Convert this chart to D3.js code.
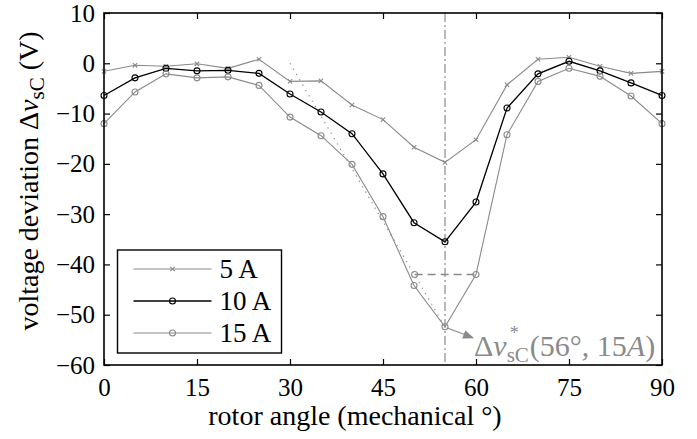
<!DOCTYPE html>
<html>
<head>
<meta charset="utf-8">
<script src="https://cdn.jsdelivr.net/npm/d3@7"></script>
<style>
body { margin: 0; background: #fff; }
</style>
</head>
<body>
<div id="viz"></div>
<script>
var angles = [0, 5, 10, 15, 20, 25, 30, 35, 40, 45, 50, 55, 60, 65, 70, 75, 80, 85, 90];
var dev5 = [-1.6, -0.4, -0.6, -0.1, -1.0, 0.8, -3.6, -3.5, -8.3, -11.2, -16.7, -19.7, -15.2, -4.3, 0.8, 1.2, -0.6, -2.0, -1.6];
var dev10 = [-6.4, -2.9, -1.0, -1.5, -1.4, -2.0, -6.1, -9.7, -14.0, -22.0, -31.7, -35.5, -27.6, -8.9, -2.1, 0.4, -1.5, -3.9, -6.4];
var dev15 = [-12.0, -5.7, -2.1, -2.9, -2.7, -4.4, -10.7, -14.4, -20.1, -30.5, -44.2, -52.4, -42.0, -14.2, -3.6, -1.0, -2.6, -6.5, -12.0];
var xTicks = [0, 15, 30, 45, 60, 75, 90];
var yTicks = [10, 0, -10, -20, -30, -40, -50, -60];
var seriesNames = ["5 A", "10 A", "15 A"];
// helper construction lines
var extrapX = [30, 55];
var extrapY = [0, -52.4];
var levelX = [50.1, 60];
var levelY = -42.0;
var markAngle = 55;

var gray = "#8a8a8a";
var serif = "Liberation Serif";
var width = 697, height = 439;
var margin = {top: 13, right: 35, bottom: 74, left: 104};
var w = width - margin.left - margin.right,
    h = height - margin.top - margin.bottom;

var svg = d3.select("#viz").append("svg")
    .attr("width", width).attr("height", height)
    .attr("font-family", serif);

var defs = svg.append("defs");
defs.append("marker").attr("id", "arr")
    .attr("viewBox", "0 0 10 10").attr("refX", 9).attr("refY", 5)
    .attr("markerWidth", 11).attr("markerHeight", 11)
    .attr("markerUnits", "userSpaceOnUse")
    .attr("orient", "auto")
  .append("path").attr("d", "M0,1 L10,5 L0,9 Z").attr("fill", gray);

var g = svg.append("g").attr("transform", "translate(" + margin.left + "," + margin.top + ")");

var x = d3.scaleLinear().domain([0, 90]).range([0, w]);
var y = d3.scaleLinear().domain([-60, 10]).range([h, 0]);

// vertical dash-dot marker line
g.append("line")
    .attr("x1", x(markAngle)).attr("x2", x(markAngle))
    .attr("y1", 0).attr("y2", h)
    .attr("stroke", gray).attr("stroke-width", 1.2)
    .attr("stroke-dasharray", "9,3,2,3");

// dotted extrapolation
g.append("line")
    .attr("x1", x(extrapX[0])).attr("y1", y(extrapY[0]))
    .attr("x2", x(extrapX[1])).attr("y2", y(extrapY[1]))
    .attr("stroke", gray).attr("stroke-width", 1.2)
    .attr("stroke-dasharray", "1.2,5");

// dashed level line
g.append("line")
    .attr("x1", x(levelX[0])).attr("y1", y(levelY))
    .attr("x2", x(levelX[1])).attr("y2", y(levelY))
    .attr("stroke", gray).attr("stroke-width", 1.4)
    .attr("stroke-dasharray", "8,5");
g.append("circle")
    .attr("cx", x(levelX[0])).attr("cy", y(levelY)).attr("r", 3)
    .attr("fill", "none").attr("stroke", gray).attr("stroke-width", 1.1);

var line = d3.line()
    .x(function(d, i) { return x(angles[i]); })
    .y(function(d) { return y(d); });

var series = [
    {vals: dev5, color: gray, mark: "x", sw: 1.1},
    {vals: dev10, color: "#000", mark: "o", sw: 1.3},
    {vals: dev15, color: gray, mark: "o", sw: 1.1}
];

function drawMarker(sel, type, color) {
    if (type === "o") {
        sel.append("circle").attr("r", 3)
            .attr("fill", "none").attr("stroke", color).attr("stroke-width", 1.1);
    } else {
        sel.append("path").attr("d", "M-2.2,-2.2L2.2,2.2M-2.2,2.2L2.2,-2.2")
            .attr("stroke", color).attr("stroke-width", 1.1);
    }
}

series.forEach(function(s) {
    g.append("path").datum(s.vals)
        .attr("d", line)
        .attr("fill", "none")
        .attr("stroke", s.color)
        .attr("stroke-width", s.sw);
    g.selectAll(null).data(s.vals).enter().append("g")
        .attr("transform", function(d, i) { return "translate(" + x(angles[i]) + "," + y(d) + ")"; })
        .each(function() { drawMarker(d3.select(this), s.mark, s.color); });
});

// arrow to annotation
g.append("line")
    .attr("x1", x(markAngle) + 3).attr("y1", y(dev15[11]) + 1.5)
    .attr("x2", x(markAngle) + 28).attr("y2", y(dev15[11]) + 11)
    .attr("stroke", gray).attr("stroke-width", 1.2)
    .attr("marker-end", "url(#arr)");

var ann = g.append("text")
    .attr("x", x(markAngle) + 29).attr("y", y(dev15[11]) + 29)
    .attr("fill", gray).attr("font-family", serif).attr("font-size", 30);
ann.append("tspan").text("Δ");
ann.append("tspan").attr("font-style", "italic").text("v");
ann.append("tspan").attr("dy", 6).attr("font-size", 21).text("sC");
ann.append("tspan").attr("dx", -19).attr("dy", -23).attr("font-size", 18).text("*");
ann.append("tspan").attr("dx", 11).attr("dy", 17).text("(56°, 15");
ann.append("tspan").attr("font-style", "italic").text("A");
ann.append("tspan").text(")");

// axes box with inward ticks
var xAxisB = d3.axisBottom(x).tickValues(xTicks).tickSizeInner(-6).tickSizeOuter(0).tickPadding(13);
var xAxisT = d3.axisTop(x).tickValues(xTicks).tickSizeInner(-6).tickSizeOuter(0).tickFormat("");
var yAxisL = d3.axisLeft(y).tickValues(yTicks).tickSizeInner(-6).tickSizeOuter(0).tickPadding(9)
    .tickFormat(function(d) { return d < 0 ? "\u2212" + Math.abs(d) : d; });
var yAxisR = d3.axisRight(y).tickValues(yTicks).tickSizeInner(-6).tickSizeOuter(0).tickFormat("");

function styleAxis(a) {
    a.attr("font-family", serif).attr("font-size", 25);
    a.select(".domain").remove();
    a.selectAll("line").attr("stroke", "#000").attr("stroke-width", 1.2);
    a.selectAll("text").attr("fill", "#000");
}
styleAxis(g.append("g").attr("transform", "translate(0," + h + ")").call(xAxisB));
styleAxis(g.append("g").call(xAxisT));
styleAxis(g.append("g").call(yAxisL));
styleAxis(g.append("g").attr("transform", "translate(" + w + ",0)").call(yAxisR));

g.append("rect").attr("width", w).attr("height", h)
    .attr("fill", "none").attr("stroke", "#000").attr("stroke-width", 1.6);

// legend
var leg = g.append("g").attr("transform", "translate(" + (117.5 - margin.left) + "," + (250 - margin.top) + ")");
leg.append("rect").attr("width", 164).attr("height", 103)
    .attr("fill", "#fff").attr("stroke", "#000").attr("stroke-width", 1.4);
series.forEach(function(s, i) {
    var yy = 19 + i * 32;
    leg.append("line").attr("x1", 16).attr("x2", 94).attr("y1", yy).attr("y2", yy)
        .attr("stroke", s.color).attr("stroke-width", s.sw);
    var m = leg.append("g").attr("transform", "translate(55," + yy + ")");
    drawMarker(m, s.mark, s.color);
    leg.append("text").attr("x", 102).attr("y", yy + 9)
        .attr("font-family", serif).attr("font-size", 27).text(seriesNames[i]);
});

// axis titles
svg.append("text")
    .attr("x", 355).attr("y", 425)
    .attr("text-anchor", "middle").attr("font-family", serif).attr("font-size", 28)
    .text("rotor angle (mechanical °)");

var yl = svg.append("text")
    .attr("transform", "translate(38,181) rotate(-90)")
    .attr("text-anchor", "middle").attr("font-family", serif).attr("font-size", 28);
yl.append("tspan").text("voltage deviation Δ");
yl.append("tspan").attr("font-style", "italic").text("v");
yl.append("tspan").attr("dy", 6).attr("font-size", 21).text("sC");
yl.append("tspan").attr("dy", -6).text(" (V)");
</script>
</body>
</html>
